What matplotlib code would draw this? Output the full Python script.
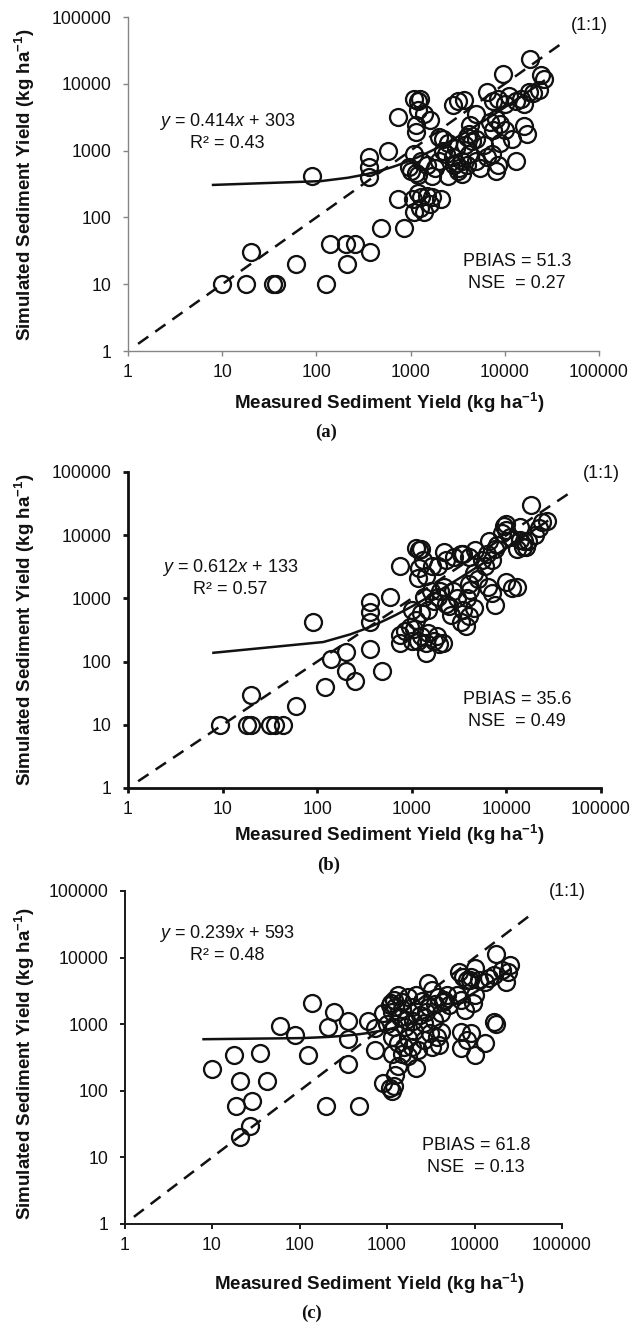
import numpy as np
import matplotlib
matplotlib.use("Agg")
import matplotlib.pyplot as plt
from matplotlib.ticker import FixedLocator, NullLocator, FuncFormatter

plt.rcParams["font.family"] = ["Liberation Sans", "DejaVu Sans"]
plt.rcParams["mathtext.fontset"] = "custom"
plt.rcParams["mathtext.rm"] = "Liberation Sans"
plt.rcParams["mathtext.it"] = "Liberation Sans:italic"
plt.rcParams["mathtext.bf"] = "Liberation Sans:bold"

# ---- data (kg ha-1) ----
MEAS_A = [10, 18, 20, 35, 37, 60, 125, 140, 205, 260, 210, 370, 480, 850,
          90, 360, 360, 360, 580, 740, 740,
          1100, 1250, 1400, 1300, 1500, 1700, 2100, 1200, 1050, 1600,
          1100, 1000, 1500, 1700, 1200, 2000, 2400, 2500, 1300, 1800, 3000, 3500, 3300, 2900,
          4000, 3500, 2800, 3200, 5000, 5500, 7400, 8500, 13000, 8000, 6500, 4200, 950, 1150,
          2000, 2200, 4000, 4500, 4200, 5000, 4300, 3800, 2500, 1150, 1150, 1600, 7000, 8000,
          9000, 7500, 10000, 12000, 9000, 16000, 17000, 6000, 3000, 2200,
          1100, 1200, 1250, 1200, 2800, 3200, 1400, 6500, 7500, 8500, 10000, 11000, 13000,
          15000, 18000, 16000, 9500, 18500, 24000, 26000, 23000, 20000, 5000, 3700]
SIM_A = [10, 10, 30, 10, 10, 20, 10, 40, 40, 40, 20, 30, 70, 70,
         420, 800, 570, 400, 1000, 3200, 190,
         120, 140, 120, 200, 210, 200, 190, 230, 190, 160,
         900, 500, 600, 420, 430, 700, 900, 420, 700, 550, 650, 700, 550, 600,
         600, 450, 800, 500, 700, 550, 900, 600, 700, 500, 800, 900, 575, 460,
         1600, 1000, 1600, 1400, 1800, 1500, 2400, 1200, 1300, 1900, 2400, 2900, 2700, 3000,
         2500, 2000, 2000, 1500, 1300, 2300, 1800, 1200, 1100, 1500,
         6000, 5500, 6000, 4000, 4800, 5500, 3500, 7500, 5500, 6000, 5000, 6500, 5500,
         6000, 7500, 5000, 14000, 23500, 13500, 12000, 8000, 7200, 3500, 5800]

MEAS_B = [9.5, 18, 20, 20, 32, 36, 43, 60, 120, 140, 200, 200, 250, 360, 480,
          90, 360, 360, 360, 590, 750, 750, 750,
          1250, 1400, 1500, 1700, 1850, 1950, 1400, 1150, 1000, 2150, 950, 850, 1050, 1100, 1000, 1250,
          1350, 1600, 1700, 1500, 2700, 3000, 2500, 3500, 4000, 3300, 3700, 2600, 2000, 2200,
          1900, 2300, 3800, 4500, 7600, 7000,
          1150, 1200, 1400, 1650, 1900, 4000, 4500, 4100, 5000, 6400, 10000, 11500, 13000, 6000, 2300,
          1100, 1200, 1250, 1300, 2200, 2800, 3300, 3500, 4000, 4700, 5500, 6500, 7500, 7000,
          6300, 8000, 13000, 16000, 15500, 14000, 15000, 17000, 14000, 9500, 10000, 11000, 9800,
          9000, 18000, 24000, 27000, 20000, 22000]
SIM_B = [10, 10, 10, 30, 10, 10, 10, 20, 40, 110, 140, 70, 50, 160, 70,
         420, 880, 600, 430, 1050, 3200, 195, 265,
         250, 195, 280, 215, 250, 190, 135, 210, 210, 195, 350, 300, 330, 460, 650, 580,
         1050, 1300, 900, 650, 1300, 1000, 750, 650, 520, 430, 360, 550, 1300, 1500,
         1050, 830, 1000, 700, 800, 1200,
         2100, 3000, 2300, 3200, 3200, 1700, 2500, 1350, 2000, 1500, 1800, 1450, 1500, 3300, 4000,
         6300, 5800, 6000, 4000, 5500, 4500, 5000, 5000, 4500, 5800, 4000, 8000, 6000, 4000,
         5000, 7000, 6000, 6500, 8200, 8500, 6500, 8000, 13500, 14000, 12000, 9500, 15000,
         11000, 30000, 16000, 17000, 10000, 13000]

MEAS_C = [10, 18, 35, 21, 43, 19, 29, 27, 21, 60, 90, 140, 125, 200, 480, 210, 250,
          360, 360, 360, 600, 730, 720,
          1070, 1190, 1320, 1130, 1475, 1730, 1930, 2150, 1400, 1640, 2390, 2800, 2960, 3300,
          3870, 4310, 4800, 5070, 4090, 2660, 3480, 6980, 6280, 7780, 9640, 10150,
          6620, 7380, 8200, 9140, 10150, 11300, 13300, 14800, 16500, 20400, 22700, 25300,
          17400, 24000, 8800,
          6980, 8200, 7000, 10150, 13300, 16500, 17400, 9140,
          910, 1070, 1190, 1130, 1230, 1320, 1130, 1320, 1550, 1730, 2030, 1130, 1470, 1730,
          1930, 2270, 2660, 3120, 2150, 3300, 3700, 3900, 4090, 910, 1000,
          1100, 1250, 1500, 2500, 3000, 3500, 4500, 2000, 1200, 1600]
SIM_C = [210, 340, 370, 140, 140, 60, 70, 30, 20, 950, 700, 2100, 350, 60, 60, 920, 1500,
         1100, 600, 250, 1100, 870, 410,
         1950, 2320, 2750, 1550, 2190, 2600, 1840, 2750, 1300, 1160, 1380, 1550, 4120, 3270,
         2600, 2190, 2750, 1950, 1460, 1035, 1160, 2320, 2750, 1640, 2065, 2750,
         6170, 5190, 4620, 5190, 6920, 4620, 4370, 4900, 5500, 6530, 4370, 7760,
         11350, 6170, 4600,
         776, 582, 440, 347, 519, 1096, 1000, 733,
         130, 110, 120, 100, 174, 232, 650, 520, 460, 610, 780, 360, 360, 330,
         460, 410, 580, 730, 220, 460, 650, 490, 775, 1450, 1000,
         2100, 1800, 1700, 2200, 1800, 2000, 2300, 1100, 900, 900]

SLOPES = [0.414, 0.612, 0.239]
INTERCEPTS = [303, 133, 593]
R2 = ["0.43", "0.57", "0.48"]
PBIAS = ["51.3", "35.6", "61.8"]
NSE = ["0.27", "0.49", "0.13"]
TAGS = ["(a)", "(b)", "(c)"]
TICKS = [1, 10, 100, 1000, 10000, 100000]
ONE_TO_ONE = [1.28, 45000]
TREND_START = 8

# ---- layout, in pixels of the 639x1324 picture ----
W, H = 639, 1324
PANELS = [
    dict(box=(128, 17, 599, 351), spine="#858585", lw=1.0,
         eq=(227, 122), r2=(227, 143), stats=(517, 262), nse=(517, 284),
         one=(589, 25), xlab=(389, 403), ylab=(24.5, 185), tag=(326, 432)),
    dict(box=(128, 472, 601, 788), spine="#111111", lw=2.0,
         eq=(230, 568), r2=(230, 589), stats=(517, 700), nse=(517, 722),
         one=(601, 474), xlab=(389, 835), ylab=(24.5, 630), tag=(329, 865)),
    dict(box=(124.5, 891, 562, 1224), spine="#1a1a1a", lw=1.4,
         eq=(227, 934), r2=(227, 956), stats=(476, 1146), nse=(476, 1167),
         one=(567, 892), xlab=(369, 1284), ylab=(24.5, 1064), tag=(312, 1313)),
]

fig = plt.figure(figsize=(W / 100, H / 100), dpi=100)


def fpos(p):
    return p[0] / W, 1 - p[1] / H


def draw_panel(lay, meas, sim, slope, intercept, r2, pbias, nse, tag):
    l, t, r, b = lay["box"]
    ax = fig.add_axes([l / W, 1 - b / H, (r - l) / W, (b - t) / H])
    ax.set_xscale("log")
    ax.set_yscale("log")
    ax.set_xlim(1, 100000)
    ax.set_ylim(1, 100000)
    for s in ("top", "right"):
        ax.spines[s].set_visible(False)
    for s in ("left", "bottom"):
        ax.spines[s].set_color(lay["spine"])
        ax.spines[s].set_linewidth(lay["lw"])
    fmt = FuncFormatter(lambda v, p: f"{int(round(v))}")
    for axis in (ax.xaxis, ax.yaxis):
        axis.set_major_locator(FixedLocator(TICKS))
        axis.set_minor_locator(NullLocator())
        axis.set_major_formatter(fmt)
    ax.tick_params(direction="out", length=3.6, width=lay["lw"],
                   color=lay["spine"], labelsize=12.7, labelcolor="#111111")
    ax.tick_params(axis="x", pad=5.5)
    ax.tick_params(axis="y", pad=8)

    ax.plot(ONE_TO_ONE, ONE_TO_ONE, color="#111111", lw=1.8,
            linestyle=(0, (5.0, 3.4)), zorder=2)
    xs = np.linspace(TREND_START, max(meas), 251)
    ax.plot(xs, slope * xs + intercept, color="#111111", lw=1.8, zorder=3)
    ax.plot(meas, sim, "o", mfc="none", mec="#111111", ms=12.2, mew=1.65,
            linestyle="none", zorder=4, clip_on=False)

    fs = 13
    fig.text(*fpos(lay["eq"]), rf"$y$ = {slope:.3f}$x$ + {intercept}",
             ha="center", va="center", fontsize=fs, color="#111111")
    fig.text(*fpos(lay["r2"]), f"R² = {r2}", ha="center", va="center",
             fontsize=fs, color="#111111")
    fig.text(*fpos(lay["stats"]), f"PBIAS = {pbias}", ha="center", va="center",
             fontsize=fs, color="#111111")
    fig.text(*fpos(lay["nse"]), f"NSE  = {nse}", ha="center", va="center",
             fontsize=fs, color="#111111")
    fig.text(*fpos(lay["one"]), "(1:1)", ha="center", va="center",
             fontsize=fs, color="#111111")
    fig.text(*fpos(lay["xlab"]), r"Measured Sediment Yield (kg ha$^{\mathbf{-1}}$)",
             ha="center", va="center", fontsize=13.5, fontweight="bold",
             color="#111111")
    fig.text(*fpos(lay["ylab"]), r"Simulated Sediment Yield (kg ha$^{\mathbf{-1}}$)",
             ha="center", va="center", fontsize=13.5, fontweight="bold",
             rotation=90, color="#111111")
    fig.text(*fpos(lay["tag"]), tag, ha="center", va="center", fontsize=13.5,
             fontweight="bold", family="Liberation Serif", color="#111111")


DATA = [(MEAS_A, SIM_A), (MEAS_B, SIM_B), (MEAS_C, SIM_C)]
for i, lay in enumerate(PANELS):
    meas, sim = DATA[i]
    draw_panel(lay, meas, sim, SLOPES[i], INTERCEPTS[i], R2[i], PBIAS[i], NSE[i], TAGS[i])

fig.savefig("out.png", dpi=100)
